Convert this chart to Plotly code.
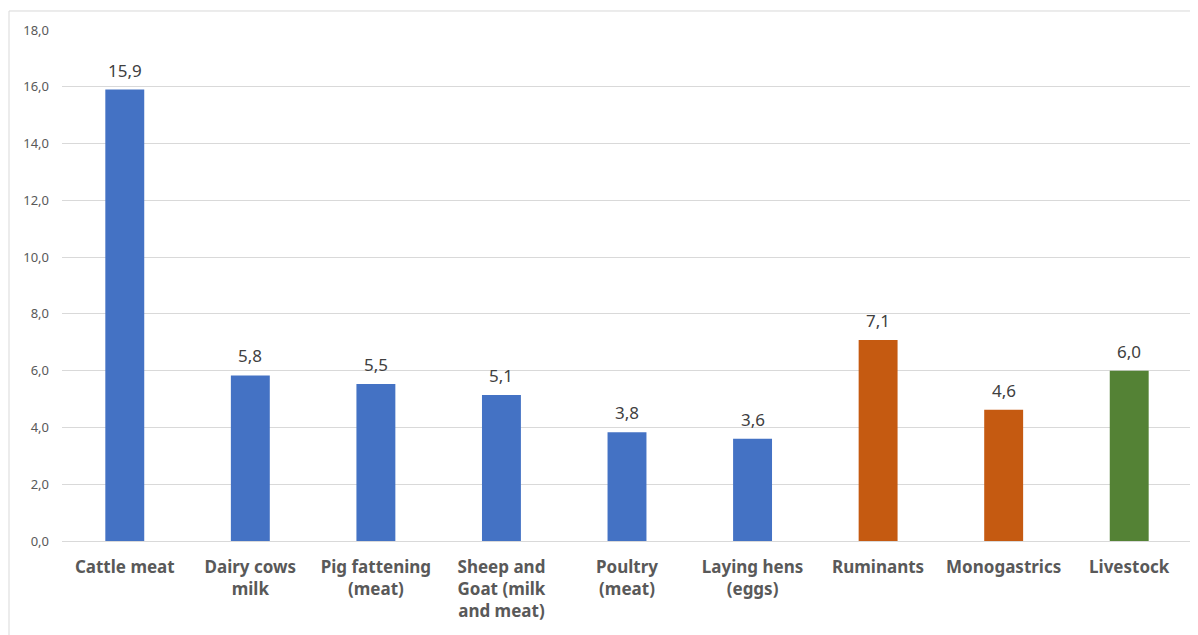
import plotly.graph_objects as go

categories = ["Cattle meat", "Dairy cows<br>milk", "Pig fattening<br>(meat)", "Sheep and<br>Goat (milk<br>and meat)",
              "Poultry<br>(meat)", "Laying hens<br>(eggs)", "Ruminants", "Monogastrics", "Livestock"]
values = [15.9, 5.83, 5.53, 5.14, 3.83, 3.6, 7.08, 4.62, 6.0]
colors = ["#4472C4"] * 6 + ["#C55A11", "#C55A11", "#548235"]
tick_vals = [0, 2, 4, 6, 8, 10, 12, 14, 16, 18]

FONT = "Noto Sans, Open Sans, sans-serif"

fig = go.Figure()
fig.add_trace(go.Bar(
    x=categories, y=values, marker=dict(color=colors, line=dict(width=0)),
    width=0.31, hoverinfo="skip",
))

annotations = [
    dict(x=c, y=v, text=f"{v:.1f}".replace(".", ","), showarrow=False, xref="x", yref="y",
         yanchor="bottom", yshift=6, font=dict(family=FONT, size=17, color="#404040"))
    for c, v in zip(categories, values)
]

fig.update_layout(
    width=1190, height=627,
    margin=dict(l=54, r=6, t=22, b=94),
    paper_bgcolor="white", plot_bgcolor="white",
    separators=",.",
    showlegend=False,
    font=dict(family=FONT, color="#595959"),
    annotations=annotations,
    shapes=[dict(type="rect", xref="paper", yref="paper", x0=-0.0469, x1=1.02, y0=-0.3, y1=1.0372,
                 line=dict(color="#D9D9D9", width=1), fillcolor="rgba(0,0,0,0)", layer="below")],
)
fig.update_xaxes(
    showgrid=False, showline=False, ticks="",
    tickfont=dict(size=17, color="#595959", family=FONT, weight="bold"),
    ticklabelstandoff=14,
)
fig.update_yaxes(
    range=[0, 18], tickvals=tick_vals, tickformat=".1f",
    showgrid=True, gridcolor="#D9D9D9", gridwidth=1,
    zeroline=True, zerolinecolor="#D9D9D9", zerolinewidth=1,
    tickfont=dict(size=13, color="#595959"),
    ticklabelstandoff=12,
)

fig.write_html("out.html")
